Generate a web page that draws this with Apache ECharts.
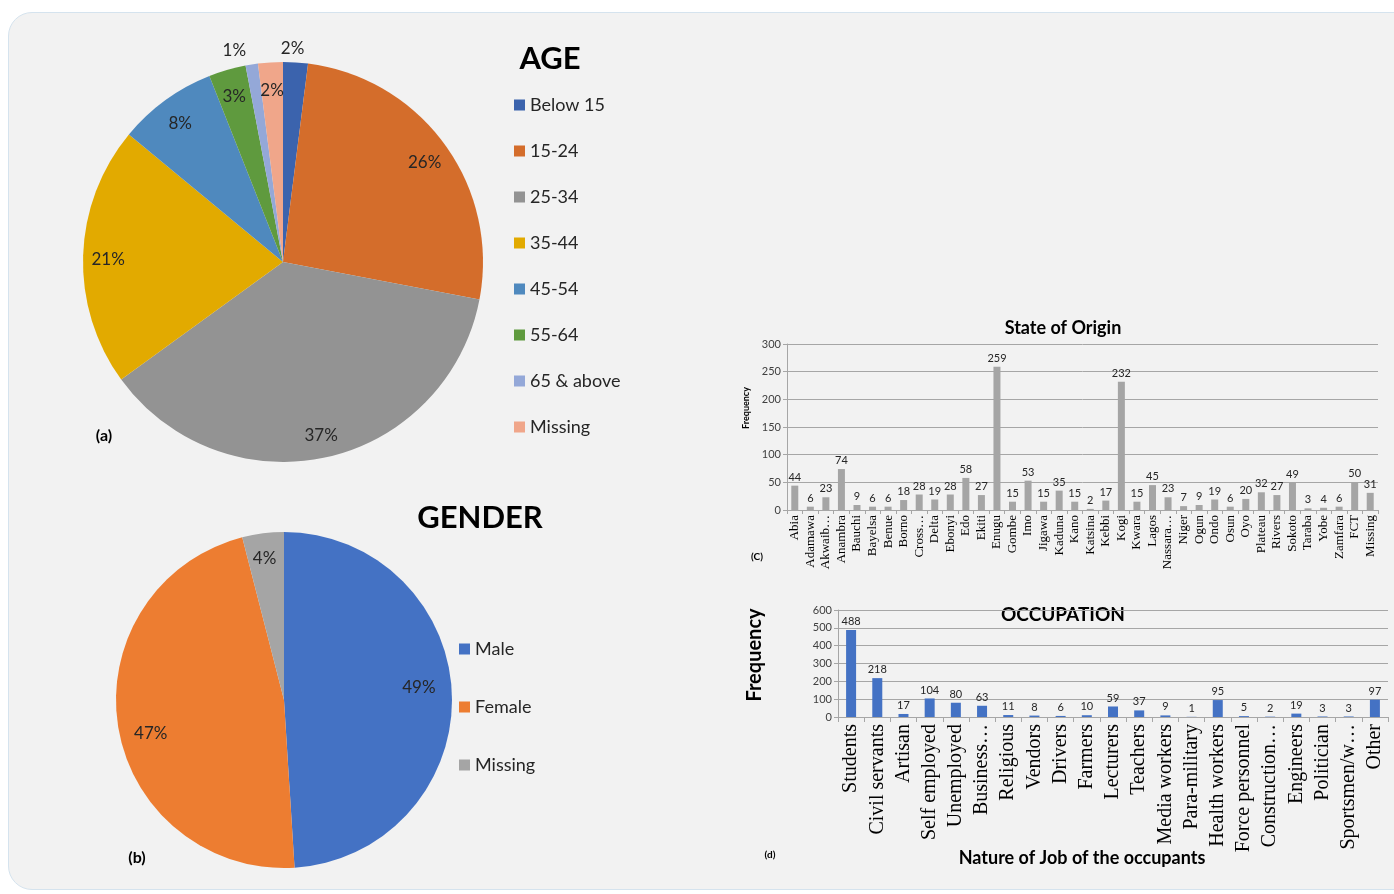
<!DOCTYPE html>
<html>
<head>
<meta charset="utf-8">
<script src="https://cdn.jsdelivr.net/npm/echarts@6/dist/echarts.min.js"></script>
<style>
html,body{margin:0;padding:0;background:#fff;width:1394px;height:894px;overflow:hidden;}
#panel{position:absolute;left:8px;top:12px;width:1410px;height:876px;background:#f2f2f2;border:1px solid #d5e3ee;border-radius:24px;}
#chart{position:absolute;left:0;top:0;width:1394px;height:894px;}
</style>
</head>
<body>
<div id="panel"></div>
<div id="chart"></div>
<script>
// ---- data ----
const ageNames = ['Below 15', '15-24', '25-34', '35-44', '45-54', '55-64', '65 & above', 'Missing'];
const agePct = [2, 26, 37, 21, 8, 3, 1, 2];
const ageColors = ['#3b63ad', '#d46d2b', '#939393', '#e2aa00', '#4f89be', '#5f9a3e', '#94a8d8', '#f0a68a'];

const genderNames = ['Male', 'Female', 'Missing'];
const genderPct = [49, 47, 4];
const genderColors = ['#4472c4', '#ed7d31', '#a5a5a5'];

const states = ['Abia', 'Adamawa', 'Akwaib…', 'Anambra', 'Bauchi', 'Bayelsa', 'Benue', 'Borno', 'Cross…', 'Delta',
  'Ebonyi', 'Edo', 'Ekiti', 'Enugu', 'Gombe', 'Imo', 'Jigawa', 'Kaduna', 'Kano', 'Katsina', 'Kebbi', 'Kogi',
  'Kwara', 'Lagos', 'Nassara…', 'Niger', 'Ogun', 'Ondo', 'Osun', 'Oyo', 'Plateau', 'Rivers', 'Sokoto', 'Taraba',
  'Yobe', 'Zamfara', 'FCT', 'Missing'];
const stateFreq = [44, 6, 23, 74, 9, 6, 6, 18, 28, 19, 28, 58, 27, 259, 15, 53, 15, 35, 15, 2, 17, 232,
  15, 45, 23, 7, 9, 19, 6, 20, 32, 27, 49, 3, 4, 6, 50, 31];
const stateTicks = [0, 50, 100, 150, 200, 250, 300];

const jobs = ['Students', 'Civil servants', 'Artisan', 'Self employed', 'Unemployed', 'Business…', 'Religious',
  'Vendors', 'Drivers', 'Farmers', 'Lecturers', 'Teachers', 'Media workers', 'Para-military', 'Health workers',
  'Force personnel', 'Construction…', 'Engineers', 'Politician', 'Sportsmen/w…', 'Other'];
const jobFreq = [488, 218, 17, 104, 80, 63, 11, 8, 6, 10, 59, 37, 9, 1, 95, 5, 2, 19, 3, 3, 97];
const jobTicks = [0, 100, 200, 300, 400, 500, 600];

// ---- chart ----
const SANS = 'Lato, "Open Sans", sans-serif';
const SERIF = '"Liberation Serif", "DejaVu Serif", serif';
const chart = echarts.init(document.getElementById('chart'), null, {renderer: 'canvas'});

function pieData(names, vals, colors) {
  return names.map((n, i) => ({name: n, value: vals[i], itemStyle: {color: colors[i]}}));
}
const outsideAge = {0: [-20, -10], 6: [0, -10]};
const genderShift = [[-4, -8], [4, 12], [-2, -4]];

const option = {
  backgroundColor: 'transparent',
  animation: false,
  legend: [
    {
      orient: 'vertical', left: 514, top: 96, padding: 0, itemGap: 28,
      itemWidth: 11, itemHeight: 11, icon: 'rect', selectedMode: false,
      textStyle: {fontFamily: SANS, fontSize: 18, lineHeight: 18, color: '#262626'},
      data: ageNames.map((n, i) => ({name: n, itemStyle: {color: ageColors[i]}}))
    },
    {
      orient: 'vertical', left: 459, top: 640, padding: 0, itemGap: 40,
      itemWidth: 11, itemHeight: 11, icon: 'rect', selectedMode: false,
      textStyle: {fontFamily: SANS, fontSize: 18, lineHeight: 18, color: '#262626'},
      data: genderNames.map((n, i) => ({name: n, itemStyle: {color: genderColors[i]}}))
    }
  ],
  grid: [
    {left: 787, top: 344, width: 591, height: 166, containLabel: false},
    {left: 838, top: 610, width: 550, height: 107, containLabel: false}
  ],
  xAxis: [
    {
      type: 'category', gridIndex: 0, data: states,
      axisLine: {lineStyle: {color: '#a6a6a6'}},
      axisTick: {show: true, length: 4, lineStyle: {color: '#a6a6a6'}},
      axisLabel: {interval: 0, rotate: 90, margin: 5, fontFamily: SERIF, fontSize: 13, color: '#000'}
    },
    {
      type: 'category', gridIndex: 1, data: jobs,
      axisLine: {lineStyle: {color: '#a6a6a6'}},
      axisTick: {show: true, length: 5, lineStyle: {color: '#a6a6a6'}},
      axisLabel: {interval: 0, rotate: 90, margin: 7, fontFamily: SERIF, fontSize: 20, color: '#000'}
    }
  ],
  yAxis: [
    {
      type: 'value', gridIndex: 0, min: stateTicks[0], max: stateTicks[stateTicks.length - 1], interval: 50,
      axisLine: {show: true, lineStyle: {color: '#a6a6a6'}},
      axisTick: {show: true, length: 4, lineStyle: {color: '#a6a6a6'}},
      axisLabel: {fontFamily: SANS, fontSize: 11, color: '#404040', margin: 6},
      splitLine: {lineStyle: {color: '#a6a6a6'}}
    },
    {
      type: 'value', gridIndex: 1, min: jobTicks[0], max: jobTicks[jobTicks.length - 1], interval: 100,
      axisLine: {show: true, lineStyle: {color: '#a6a6a6'}},
      axisTick: {show: true, length: 4, lineStyle: {color: '#a6a6a6'}},
      axisLabel: {fontFamily: SANS, fontSize: 11, color: '#404040', margin: 6},
      splitLine: {lineStyle: {color: '#a6a6a6'}}
    }
  ],
  series: [
    {
      type: 'pie', center: [283, 262], radius: [0, 200], startAngle: 90, clockwise: true,
      data: pieData(ageNames, agePct, ageColors), label: {show: false}, labelLine: {show: false},
      silent: true
    },
    {
      type: 'pie', center: [283, 262], radius: [144, 200], startAngle: 90, clockwise: true, silent: true,
      legendHoverLink: false,
      data: ageNames.map((n, i) => {
        const d = {name: n, value: agePct[i], itemStyle: {color: 'rgba(0,0,0,0)'}};
        if (outsideAge[i]) {
          d.label = {position: 'outside'};
          d.labelLine = {show: false, length: 4, length2: 0};
        }
        return d;
      }),
      label: {show: true, position: 'inside', formatter: '{c}%', fontFamily: SANS, fontSize: 17, color: '#262626'},
      labelLine: {show: false},
      labelLayout: function (p) {
        const o = outsideAge[p.dataIndex];
        return o ? {dx: o[0], dy: o[1]} : {dy: 3};
      }
    },
    {
      type: 'pie', center: [284, 700], radius: [0, 168], startAngle: 90, clockwise: true,
      data: pieData(genderNames, genderPct, genderColors), label: {show: false}, labelLine: {show: false},
      silent: true
    },
    {
      type: 'pie', center: [284, 700], radius: [104, 168], startAngle: 90, clockwise: true, silent: true,
      legendHoverLink: false,
      data: genderNames.map((n, i) => ({name: n, value: genderPct[i], itemStyle: {color: 'rgba(0,0,0,0)'}})),
      label: {show: true, position: 'inside', formatter: '{c}%', fontFamily: SANS, fontSize: 17, color: '#262626'},
      labelLine: {show: false},
      labelLayout: function (p) {
        const s = genderShift[p.dataIndex];
        return {dx: s[0], dy: s[1]};
      }
    },
    {
      type: 'bar', xAxisIndex: 0, yAxisIndex: 0, data: stateFreq, barWidth: 7,
      itemStyle: {color: '#a5a5a5'},
      label: {show: true, position: 'top', distance: 3, fontFamily: SANS, fontSize: 11, color: '#262626'}
    },
    {
      type: 'bar', xAxisIndex: 1, yAxisIndex: 1, data: jobFreq, barWidth: 10,
      itemStyle: {color: '#4472c4'},
      label: {show: true, position: 'top', distance: 3, fontFamily: SANS, fontSize: 11, color: '#262626'}
    }
  ],
  graphic: [
    {type: 'text', x: 550, y: 59, style: {text: 'AGE', font: 'bold 31px ' + SANS, fill: '#000', align: 'center', verticalAlign: 'middle'}},
    {type: 'text', x: 480, y: 518, style: {text: 'GENDER', font: 'bold 31px ' + SANS, fill: '#000', align: 'center', verticalAlign: 'middle'}},
    {type: 'text', x: 1063, y: 328, style: {text: 'State of Origin', font: 'bold 18px ' + SANS, fill: '#000', align: 'center', verticalAlign: 'middle'}},
    {type: 'text', x: 1063, y: 615, style: {text: 'OCCUPATION', font: 'bold 19px ' + SANS, fill: '#000', align: 'center', verticalAlign: 'middle'}},
    {type: 'text', x: 1082, y: 858, style: {text: 'Nature of Job of the occupants', font: 'bold 18px ' + SANS, fill: '#000', align: 'center', verticalAlign: 'middle'}},
    {type: 'text', x: 755, y: 655, rotation: Math.PI / 2, style: {text: 'Frequency', font: 'bold 20px ' + SANS, fill: '#000', align: 'center', verticalAlign: 'middle'}},
    {type: 'text', x: 746, y: 408, rotation: Math.PI / 2, style: {text: 'Frequency', font: 'bold 9px ' + SANS, fill: '#000', align: 'center', verticalAlign: 'middle'}},
    {type: 'text', x: 104, y: 436, style: {text: '(a)', font: 'bold 16px ' + SANS, fill: '#000', align: 'center', verticalAlign: 'middle'}},
    {type: 'text', x: 137, y: 858, style: {text: '(b)', font: 'bold 16px ' + SANS, fill: '#000', align: 'center', verticalAlign: 'middle'}},
    {type: 'text', x: 757, y: 557, style: {text: '(C)', font: 'bold 10px ' + SANS, fill: '#000', align: 'center', verticalAlign: 'middle'}},
    {type: 'text', x: 770, y: 855, style: {text: '(d)', font: 'bold 10px ' + SANS, fill: '#000', align: 'center', verticalAlign: 'middle'}}
  ]
};
chart.setOption(option);
</script>
</body>
</html>
